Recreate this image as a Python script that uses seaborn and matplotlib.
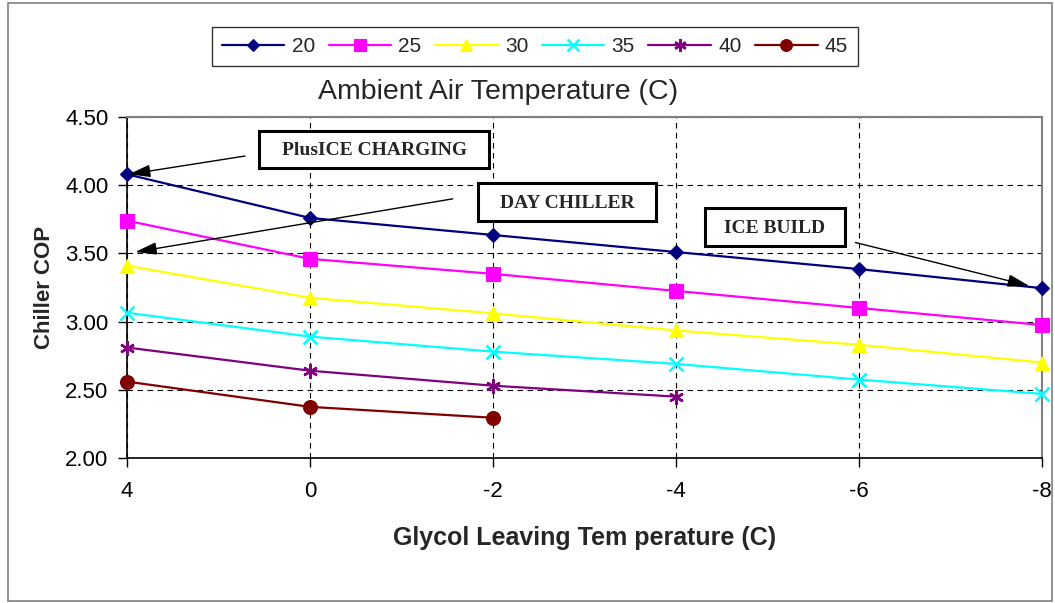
import numpy as np
import pandas as pd
import matplotlib
matplotlib.use("Agg")
import matplotlib.pyplot as plt
import seaborn as sns
from matplotlib.lines import Line2D
from matplotlib.patches import Rectangle

# ---- data ----
x_labels = ["4", "0", "-2", "-4", "-6", "-8"]
series_names = ["20", "25", "30", "35", "40", "45"]
cop_20 = [4.08, 3.76, 3.635, 3.51, 3.385, 3.245]
cop_25 = [3.74, 3.46, 3.35, 3.225, 3.10, 2.975]
cop_30 = [3.41, 3.175, 3.06, 2.935, 2.83, 2.70]
cop_35 = [3.065, 2.89, 2.78, 2.69, 2.575, 2.47]
cop_40 = [2.81, 2.64, 2.53, 2.45, np.nan, np.nan]
cop_45 = [2.56, 2.375, 2.295, np.nan, np.nan, np.nan]
y_ticks = [2.00, 2.50, 3.00, 3.50, 4.00, 4.50]

colors = {"20": "#000080", "25": "#FF00FF", "30": "#FFFF00",
          "35": "#00FFFF", "40": "#800080", "45": "#800000"}
markers = {"20": "D", "25": "s", "30": "^", "35": "x", "40": (6, 2, 0), "45": "o"}
msizes = {"20": 7, "25": 10, "30": 10.5, "35": 10, "40": 10.5, "45": 10}
mews = {"20": 0.8, "25": 0.8, "30": 0.8, "35": 1.8, "40": 1.8, "45": 0.8}

rows = []
for name, vals in zip(series_names, [cop_20, cop_25, cop_30, cop_35, cop_40, cop_45]):
    for i, v in enumerate(vals):
        if not np.isnan(v):
            rows.append({"pos": i, "cop": v, "temp": name})
df = pd.DataFrame(rows)

sns.set_theme(style="white")
plt.rcParams["font.family"] = ["Liberation Sans", "DejaVu Sans"]

W, H = 1055, 603
fig = plt.figure(figsize=(W / 100, H / 100), dpi=100)
ax = fig.add_axes([127 / W, 1 - 458 / H, (1042 - 127) / W, (458 - 117) / H])

for name in series_names:
    sub = df[df["temp"] == name]
    c = colors[name]
    sns.lineplot(data=sub, x="pos", y="cop", color=c, marker=markers[name],
                 markersize=msizes[name], markeredgecolor=c, markerfacecolor=c,
                 markeredgewidth=mews[name], linewidth=1.6, ax=ax, legend=False,
                 clip_on=False, zorder=5)

ax.set_xlim(0, 5)
ax.set_ylim(2.0, 4.5)
ax.set_xticks(range(6))
ax.set_xticklabels(x_labels)
ax.set_yticks(y_ticks)
ax.set_yticklabels([f"{t:.2f}" for t in y_ticks])
ax.tick_params(axis="both", labelsize=16, colors="black", direction="out",
               length=6.5, width=1, bottom=True, left=True)
ax.tick_params(axis="x", pad=10)
ax.tick_params(axis="y", pad=7)

ax.grid(True, color="black", linestyle=(0, (5, 4)), linewidth=0.8)
for s in ("left", "bottom"):
    ax.spines[s].set_color("black")
    ax.spines[s].set_linewidth(1.2)
for s in ("top", "right"):
    ax.spines[s].set_color("#808080")
    ax.spines[s].set_linewidth(1.5)

ax.set_xlabel("Glycol Leaving Tem perature (C)", fontsize=18, fontweight="bold", labelpad=17)
ax.set_ylabel("Chiller COP", fontsize=16, fontweight="bold", labelpad=7)

# legend
handles = [Line2D([0], [0], color=colors[n], marker=markers[n], markersize=msizes[n] * 0.85,
                  markerfacecolor=colors[n], markeredgecolor=colors[n],
                  markeredgewidth=mews[n], linewidth=1.6)
           for n in series_names]
leg = fig.legend(handles, series_names, loc="center", bbox_to_anchor=(535 / W, 1 - 46.5 / H),
                 ncol=6, frameon=True, fancybox=False, edgecolor="black", fontsize=15,
                 handlelength=3.0, columnspacing=0.65, handletextpad=0.35, borderpad=0.5)
leg.get_frame().set_linewidth(1.0)
fig.text(498 / W, 1 - 99 / H, "Ambient Air Temperature (C)", ha="center", va="baseline", fontsize=20.5)

# annotations: arrows (data coords) and boxed labels (pixel layout)
serif = ["Liberation Serif", "DejaVu Serif"]
arrow = dict(arrowstyle="-|>,head_length=1.1,head_width=0.32", color="black", lw=1,
             shrinkA=0, shrinkB=0)
ax.annotate("", xy=(0.01, 4.08), xytext=(0.645, 4.214), arrowprops=arrow, zorder=6)
ax.annotate("", xy=(0.045, 3.51), xytext=(1.78, 3.90), arrowprops=arrow, zorder=6)
ax.annotate("", xy=(4.93, 3.262), xytext=(3.98, 3.58), arrowprops=arrow, zorder=6)

boxes = [("PlusICE CHARGING", 259, 131, 489, 168),
         ("DAY CHILLER", 478, 183, 656, 221),
         ("ICE BUILD", 705, 208, 845, 246)]
for label, x0, y0, x1, y1 in boxes:
    fig.add_artist(Rectangle((x0 / W, 1 - y1 / H), (x1 - x0) / W, (y1 - y0) / H,
                             transform=fig.transFigure, facecolor="white",
                             edgecolor="black", linewidth=2.2, zorder=3))
    fig.text((x0 + x1) / 2 / W, 1 - ((y0 + y1) / 2 + 1) / H, label, family=serif,
             fontweight="bold", fontsize=14, ha="center", va="center", zorder=4)

# outer border
fig.add_artist(Rectangle((8 / W, 2 / H), 1044 / W, 598 / H, transform=fig.transFigure,
                         fill=False, edgecolor="#808080", linewidth=1.2))

fig.savefig("out.png", dpi=100)
